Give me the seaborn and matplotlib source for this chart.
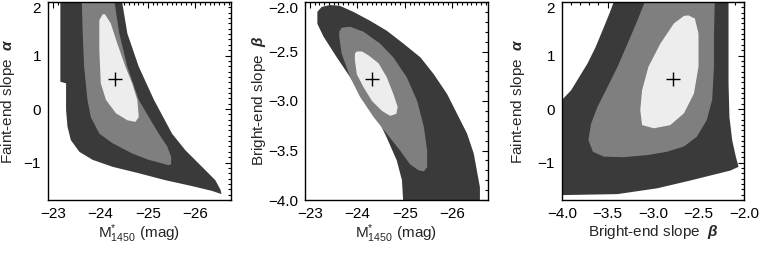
import matplotlib
matplotlib.use("Agg")
import matplotlib.pyplot as plt
import seaborn as sns
from matplotlib.ticker import MultipleLocator, FuncFormatter

# best-fit values (plus sign)
best_mstar = -24.32
best_alpha = 0.56
best_beta = -2.78

# panel 1: M* vs alpha, confidence regions (outer, middle, inner)
p1_outer_m = [-23.16, -23.16, -23.28, -23.28, -23.31, -23.38, -23.56, -23.84, -24.26, -24.81, -25.37,
              -25.93, -26.35, -26.55, -26.53, -26.42, -26.14, -25.79, -25.51, -25.13, -24.81, -24.57, -24.45]
p1_outer_a = [2.05, 0.51, 0.48, -0.02, -0.33, -0.58, -0.80, -0.95, -1.08, -1.20, -1.33,
              -1.44, -1.53, -1.59, -1.51, -1.33, -1.08, -0.77, -0.46, 0.17, 0.79, 1.41, 2.05]
p1_mid_m = [-23.61, -23.63, -23.66, -23.73, -23.80, -23.98, -24.26, -24.67, -25.02, -25.44, -25.49,
            -25.49, -25.41, -25.23, -25.02, -24.81, -24.57, -24.40, -24.29]
p1_mid_a = [2.05, 1.41, 0.79, 0.17, -0.15, -0.46, -0.64, -0.83, -0.95, -1.05, -1.03,
            -0.89, -0.70, -0.46, -0.15, 0.17, 0.79, 1.41, 2.05]
p1_in_m = [-24.05, -23.98, -23.98, -24.01, -24.12, -24.33, -24.57, -24.74, -24.81, -24.78, -24.67,
           -24.53, -24.36, -24.22, -24.10]
p1_in_a = [1.77, 1.66, 1.10, 0.48, 0.17, -0.08, -0.21, -0.24, -0.15, 0.17, 0.48,
           0.79, 1.22, 1.60, 1.77]

# panel 2: M* vs beta
p2_outer_m = [-23.16, -23.25, -23.43, -23.64, -23.92, -24.27, -24.62, -24.97, -25.33, -25.61, -25.89,
              -26.10, -26.31, -26.45, -26.53, -26.58, -26.58, -24.97, -24.94, -24.83, -24.62, -24.41,
              -24.13, -23.85, -23.57, -23.29, -23.16]
p2_outer_b = [-2.10, -2.05, -2.03, -2.04, -2.10, -2.19, -2.29, -2.42, -2.56, -2.73, -2.93,
              -3.13, -3.33, -3.53, -3.74, -3.87, -4.05, -4.05, -3.80, -3.60, -3.37, -3.16,
              -2.96, -2.76, -2.56, -2.35, -2.22]
p2_mid_m = [-23.62, -23.67, -23.85, -24.13, -24.48, -24.76, -25.04, -25.26, -25.40, -25.47, -25.47,
            -25.40, -25.29, -25.11, -24.90, -24.62, -24.34, -24.06, -23.85, -23.67, -23.62]
p2_mid_b = [-2.30, -2.26, -2.25, -2.30, -2.42, -2.56, -2.76, -3.00, -3.26, -3.50, -3.67,
            -3.71, -3.70, -3.64, -3.50, -3.33, -3.16, -2.96, -2.76, -2.52, -2.35]
p2_in_m = [-23.95, -23.99, -24.10, -24.24, -24.45, -24.62, -24.76, -24.85, -24.82, -24.69, -24.52,
           -24.31, -24.13, -23.99, -23.95]
p2_in_b = [-2.52, -2.50, -2.50, -2.54, -2.62, -2.76, -2.93, -3.06, -3.13, -3.15, -3.10,
           -3.00, -2.86, -2.73, -2.59]

# panel 3: beta vs alpha
p3_outer_b = [-4.05, -4.0, -3.90, -3.81, -3.72, -3.63, -3.54, -3.48, -3.42, -2.17, -2.17, -2.16,
              -2.13, -2.09, -2.06, -2.15, -2.34, -2.60, -2.95, -3.39, -4.05]
p3_outer_a = [0.17, 0.17, 0.35, 0.60, 0.85, 1.16, 1.53, 1.78, 2.05, 2.05, 0.48, -0.15,
              -0.58, -0.89, -1.08, -1.15, -1.23, -1.34, -1.48, -1.59, -1.61]
p3_mid_b = [-3.08, -3.17, -3.28, -3.39, -3.50, -3.61, -3.68, -3.71, -3.66, -3.54, -3.32,
            -3.06, -2.85, -2.66, -2.52, -2.41, -2.35, -2.33, -2.33, -2.32]
p3_mid_a = [2.05, 1.66, 1.22, 0.79, 0.41, 0.04, -0.27, -0.58, -0.80, -0.89, -0.90,
            -0.86, -0.80, -0.70, -0.52, -0.21, 0.17, 0.79, 1.41, 2.05]
p3_in_b = [-2.61, -2.54, -2.50, -2.50, -2.55, -2.66, -2.81, -2.99, -3.12, -3.14, -3.12,
           -3.05, -2.92, -2.77, -2.66]
p3_in_a = [1.75, 1.69, 1.41, 0.79, 0.29, -0.08, -0.30, -0.36, -0.30, -0.02, 0.35,
           0.79, 1.22, 1.60, 1.74]

shades = ["#3a3a3a", "#7f7f7f", "#ededed"]

sns.set_style("white")
plt.rcParams['font.family'] = ['Liberation Sans', 'DejaVu Sans']
plt.rcParams['mathtext.fontset'] = 'custom'
plt.rcParams['mathtext.rm'] = 'Liberation Sans'
plt.rcParams['mathtext.it'] = 'Liberation Sans:italic'
plt.rcParams['mathtext.bf'] = 'Liberation Sans:bold'
plt.rcParams['mathtext.bfit'] = 'Liberation Sans:bold:italic'


def one_dec(v, pos):
    return f"{v:.1f}".replace("-", "\u2212")


def no_dec(v, pos):
    return f"{v:.0f}".replace("-", "\u2212")


fig = plt.figure(figsize=(7.61, 2.56), dpi=100)
h = 198 / 256
bottom = 56 / 256
ax1 = fig.add_axes([48 / 761, bottom, 183 / 761, h])
ax2 = fig.add_axes([305 / 761, bottom, 183 / 761, h])
ax3 = fig.add_axes([562 / 761, bottom, 182 / 761, h])

panels = [
    (ax1, [(p1_outer_m, p1_outer_a), (p1_mid_m, p1_mid_a), (p1_in_m, p1_in_a)], (best_mstar, best_alpha)),
    (ax2, [(p2_outer_m, p2_outer_b), (p2_mid_m, p2_mid_b), (p2_in_m, p2_in_b)], (best_mstar, best_beta)),
    (ax3, [(p3_outer_b, p3_outer_a), (p3_mid_b, p3_mid_a), (p3_in_b, p3_in_a)], (best_beta, best_alpha)),
]

for ax, regions, best in panels:
    for (xs, ys), c in zip(regions, shades):
        ax.fill(xs, ys, color=c, lw=0)
    sns.scatterplot(x=[best[0]], y=[best[1]], marker="+", s=90, color="black", linewidth=1.0, ax=ax)
    ax.tick_params(which="both", direction="in", top=True, right=True, labelsize=11, pad=5,
                   color="black", labelcolor="black")
    ax.tick_params(which="major", length=4, width=0.8)
    ax.tick_params(which="minor", length=2, width=0.8)
    for s in ax.spines.values():
        s.set_color("black")
        s.set_linewidth(1.0)

mlabel = r"M$^{*}_{1450}$ (mag)"
alabel = r"Faint-end slope  $\boldsymbol{\alpha}$"
blabel = r"Bright-end slope  $\boldsymbol{\beta}$"

for ax in (ax1, ax2):
    ax.set_xlim(-22.9, -26.75)
    ax.xaxis.set_major_locator(MultipleLocator(1))
    ax.xaxis.set_minor_locator(MultipleLocator(0.1))
    ax.xaxis.set_major_formatter(FuncFormatter(no_dec))
    ax.set_xlabel(mlabel, fontsize=11)
    ax.xaxis.set_label_coords(0.5, -0.115)

ax1.set_ylim(-1.7, 2)
ax1.yaxis.set_major_locator(MultipleLocator(1))
ax1.yaxis.set_minor_locator(MultipleLocator(0.1))
ax1.yaxis.set_major_formatter(FuncFormatter(no_dec))
ax1.set_ylabel(alabel, fontsize=11)
ax1.yaxis.set_label_coords(-0.17, 0.5)

ax2.set_ylim(-4, -2)
ax2.yaxis.set_major_locator(MultipleLocator(0.5))
ax2.yaxis.set_minor_locator(MultipleLocator(0.1))
ax2.yaxis.set_major_formatter(FuncFormatter(one_dec))
ax2.set_ylabel(blabel, fontsize=11)
ax2.yaxis.set_label_coords(-0.20, 0.5)

ax3.set_xlim(-4, -2)
ax3.set_ylim(-1.7, 2)
ax3.xaxis.set_major_locator(MultipleLocator(0.5))
ax3.xaxis.set_minor_locator(MultipleLocator(0.1))
ax3.xaxis.set_major_formatter(FuncFormatter(one_dec))
ax3.yaxis.set_major_locator(MultipleLocator(1))
ax3.yaxis.set_minor_locator(MultipleLocator(0.1))
ax3.yaxis.set_major_formatter(FuncFormatter(no_dec))
ax3.set_xlabel(blabel, fontsize=11)
ax3.xaxis.set_label_coords(0.5, -0.115)
ax3.set_ylabel(alabel, fontsize=11)
ax3.yaxis.set_label_coords(-0.19, 0.5)

# top y tick label sits just below the frame corner, as in the original
fig.canvas.draw()
for ax in (ax1, ax2, ax3):
    top = ax.get_ylim()[1]
    for tick in ax.yaxis.get_major_ticks():
        if abs(tick.get_loc() - top) < 1e-6:
            tick.label1.set_verticalalignment("top")

fig.savefig("out.png", dpi=100, facecolor="white")
